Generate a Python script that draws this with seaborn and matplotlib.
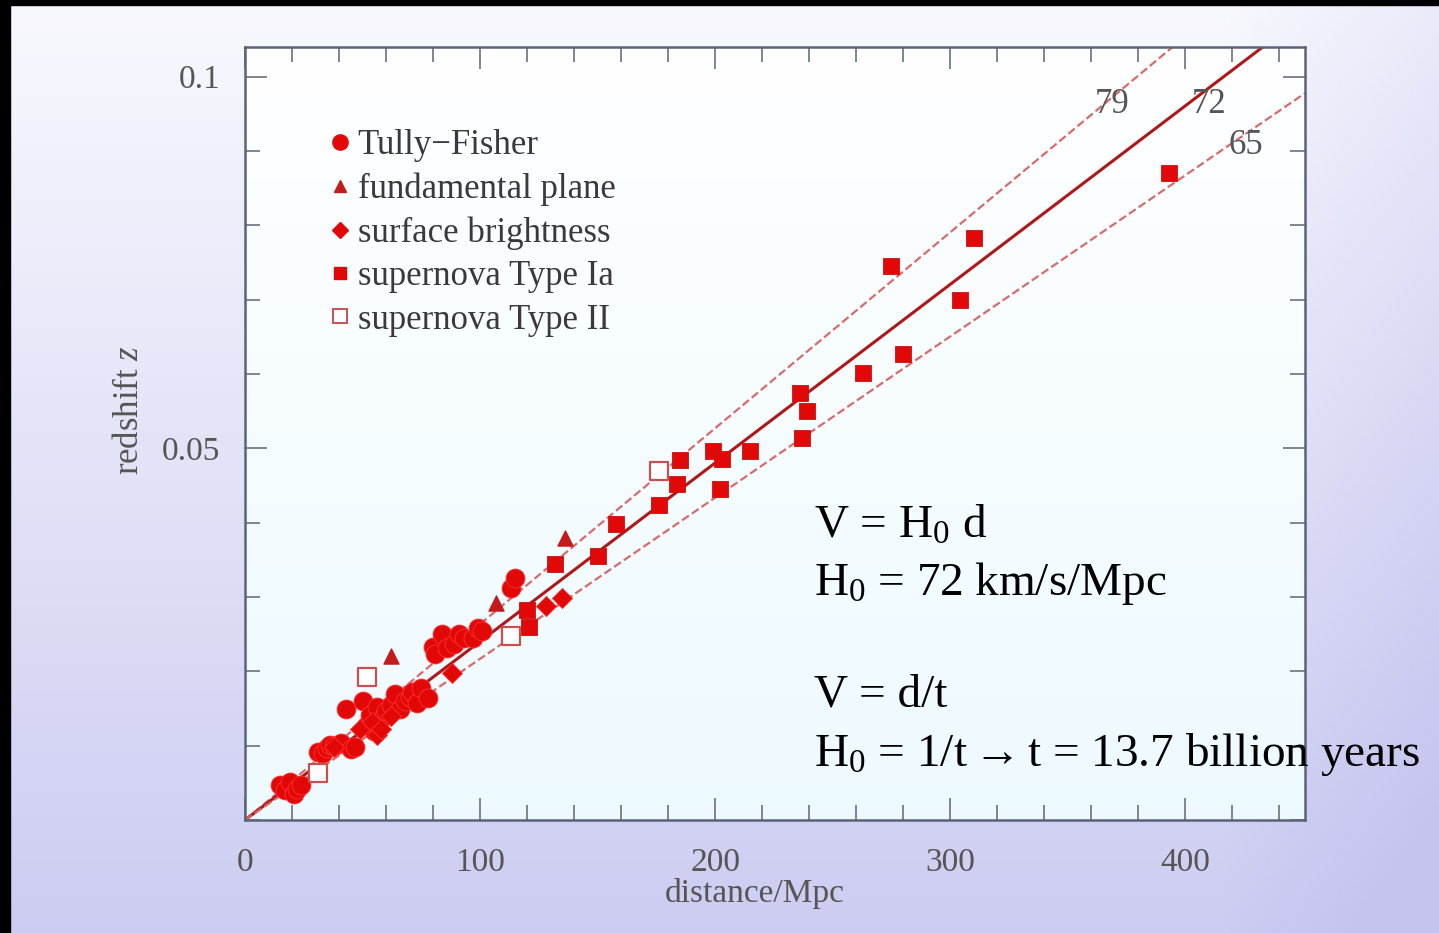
import numpy as np
import pandas as pd
import seaborn as sns
from matplotlib import pyplot as plt
from matplotlib.lines import Line2D
from matplotlib.patches import Rectangle
from matplotlib.ticker import MultipleLocator, FixedLocator

# Tully-Fisher (circles)
tf_d = [15, 17, 19, 21, 22, 24, 31, 33, 35, 36, 38, 41, 45, 47, 43, 50, 52, 53, 55, 56, 57, 59,
        60, 62, 64, 66, 68, 70, 71, 73, 75, 78, 80, 81, 84, 86, 89, 91, 93, 97, 99, 101, 113, 115]
tf_z = [0.0047, 0.0040, 0.0051, 0.0035, 0.0042, 0.0047, 0.0092, 0.0090, 0.0097, 0.0101, 0.0099,
        0.0103, 0.0096, 0.0098, 0.0150, 0.0160, 0.0128, 0.0141, 0.0120, 0.0152, 0.0130, 0.0140,
        0.0147, 0.0155, 0.0170, 0.0150, 0.0160, 0.0165, 0.0172, 0.0158, 0.0177, 0.0164,
        0.0233, 0.0223, 0.0250, 0.0231, 0.0237, 0.0250, 0.0245, 0.0245, 0.0258, 0.0254,
        0.0312, 0.0326]
# fundamental plane (triangles)
fp_d = [62, 107, 136]
fp_z = [0.0221, 0.0292, 0.0380]
# surface brightness (diamonds)
sb_d = [38, 49, 54, 56, 58, 62, 88, 128, 135]
sb_z = [0.0098, 0.0123, 0.0132, 0.0114, 0.0123, 0.0140, 0.0198, 0.0288, 0.0299]
# supernova Type Ia (filled squares)
sn1a_d = [120, 121, 132, 150, 158, 176, 184, 185, 199, 203, 202, 215, 236, 239, 237,
          263, 280, 275, 304, 310, 393]
sn1a_z = [0.0283, 0.0260, 0.0345, 0.0355, 0.0398, 0.0424, 0.0452, 0.0484, 0.0497, 0.0486,
          0.0446, 0.0496, 0.0574, 0.0550, 0.0514, 0.0601, 0.0627, 0.0745, 0.0700, 0.0783, 0.0871]
# supernova Type II (open squares)
sn2_d = [31, 52, 113, 176]
sn2_z = [0.0063, 0.0193, 0.0247, 0.0470]

hubble = [79, 72, 65]
c_kms = 299792.0
x_max = 451
y_max = 0.104

RED = '#e30808'
SERIF = ['Liberation Serif', 'DejaVu Serif']

sns.set_style('ticks')
plt.rcParams['font.family'] = SERIF
plt.rcParams['mathtext.fontset'] = 'custom'
plt.rcParams['mathtext.rm'] = 'Liberation Serif'
plt.rcParams['mathtext.it'] = 'Liberation Serif:italic'
plt.rcParams['mathtext.bf'] = 'Liberation Serif:bold'
plt.rcParams['mathtext.default'] = 'regular'

fig = plt.figure(figsize=(14.39, 9.33), dpi=100)

# slide background gradient
bg = fig.add_axes([0, 0, 1, 1], zorder=-10)
yy, xx = np.mgrid[0:1:200j, 0:1:200j]
t = np.clip(0.05 + 0.8 * yy + 0.25 * np.clip(xx - 0.85, 0, 1) / 0.15, 0, 1)
top = np.array([0.985, 0.985, 1.0])
bot = np.array([0.77, 0.77, 0.94])
img = top[None, None, :] * (1 - t[..., None]) + bot[None, None, :] * t[..., None]
bg.imshow(img, extent=(0, 1, 0, 1), aspect='auto', origin='upper')
bg.set_axis_off()
fig.patches.append(Rectangle((0, 0), 10 / 1439, 1, transform=fig.transFigure, color='black', zorder=5))
fig.patches.append(Rectangle((0, 1 - 5 / 933), 1, 5 / 933, transform=fig.transFigure, color='black', zorder=5))

ax = fig.add_axes([245 / 1439, 1 - 820 / 933, 1060 / 1439, 773 / 933])
ax.set_facecolor('white')

# faint cyan tint inside the frame
grad = np.linspace(0, 1, 100)[:, None]
inner = np.ones((100, 2, 3))
inner[..., 0] = 1 - 0.07 * grad
inner[..., 1] = 1 - 0.02 * grad
ax.imshow(inner, extent=(0, x_max, 0, y_max), aspect='auto', origin='upper', zorder=0)

# Hubble lines
d_line = np.array([0, x_max])
for h in hubble:
    line_df = pd.DataFrame({'d': d_line, 'z': h * d_line / c_kms})
    if h == 72:
        sns.lineplot(data=line_df, x='d', y='z', ax=ax, color='#b01818', lw=2.2, zorder=2)
    else:
        sns.lineplot(data=line_df, x='d', y='z', ax=ax, color='#d86a6a', lw=1.6,
                     dashes=(6, 4), linestyle='--', zorder=2)

kw = dict(ax=ax, color=RED, linewidth=0.6, zorder=3, legend=False)
sns.scatterplot(x=tf_d, y=tf_z, marker='o', s=185, edgecolor='#ff3030', **kw)
sns.scatterplot(x=sb_d, y=sb_z, marker='D', s=105, edgecolor='#ff3030', **kw)
sns.scatterplot(x=sn1a_d, y=sn1a_z, marker='s', s=125, edgecolor='#c81010', **kw)
sns.scatterplot(x=fp_d, y=fp_z, marker='^', s=120, ax=ax, color='#c41a1a', edgecolor='#c41a1a',
                zorder=3, legend=False)
sns.scatterplot(x=sn2_d, y=sn2_z, marker='s', s=180, ax=ax, facecolor='white', edgecolor='#c85050',
                linewidth=1.6, zorder=3, legend=False)

ax.set_xlim(0, x_max)
ax.set_ylim(0, y_max)

# ticks inward on every side
ax.xaxis.set_major_locator(FixedLocator([0, 100, 200, 300, 400]))
ax.xaxis.set_minor_locator(MultipleLocator(20))
ax.yaxis.set_major_locator(FixedLocator([0.05, 0.1]))
ax.yaxis.set_minor_locator(MultipleLocator(0.01))
ax.set_yticklabels(['0.05', '0.1'])
ax.tick_params(which='both', direction='in', top=True, right=True, colors='#6a7080',
               labelcolor='#555555', labelsize=24, width=1.2)
ax.tick_params(axis='x', which='major', length=16, pad=20)
ax.tick_params(axis='y', which='major', length=16, pad=18)
ax.tick_params(which='minor', length=11)
for sp in ax.spines.values():
    sp.set_color('#5a6478')
    sp.set_linewidth(1.8)

ax.set_xlabel('distance/Mpc', fontsize=24, color='#555555')
ax.set_ylabel('redshift $\\mathit{z}$', fontsize=25, color='#555555')
ax.xaxis.set_label_coords(0.481, -0.075)
ax.yaxis.set_label_coords(-0.093, 0.53)

# line labels
for lab, xd, yd in [('79', 369, 0.0962), ('72', 410, 0.0962), ('65', 426, 0.0907)]:
    ax.text(xd, yd, lab, fontsize=25, color='#555555', ha='center', va='center', zorder=4)

handles = [
    Line2D([], [], marker='o', ls='', color=RED, markersize=11),
    Line2D([], [], marker='^', ls='', color='#c41a1a', markersize=9),
    Line2D([], [], marker='D', ls='', color=RED, markersize=8.5),
    Line2D([], [], marker='s', ls='', color=RED, markersize=9),
    Line2D([], [], marker='s', ls='', markerfacecolor='white', markeredgecolor='#c85050',
           markeredgewidth=1.4, markersize=10),
]
labels = ['Tully\u2212Fisher', 'fundamental plane', 'surface brightness',
          'supernova Type Ia', 'supernova Type II']
leg = ax.legend(handles, labels, loc='upper left', bbox_to_anchor=(0.0685, 0.912), frameon=False,
                fontsize=25, handlelength=0.5, handletextpad=0.25, labelspacing=0.30,
                borderaxespad=0)
for txt in leg.get_texts():
    txt.set_color('#3a3a3a')

# Hubble law notes
notes = ['V = H$_0$ d', 'H$_0$ = 72 km/s/Mpc', 'V = d/t',
         'H$_0$ = 1/t$\\mathbf{\\rightarrow}$t = 13.7 billion years']
note_y = [0.0396, 0.0318, 0.0168, 0.0088]
for txt, yv in zip(notes, note_y):
    ax.text(242.0, yv, txt, fontsize=34, color='black', ha='left', va='center',
            zorder=6, clip_on=False)

fig.savefig('out.png', dpi=100)
